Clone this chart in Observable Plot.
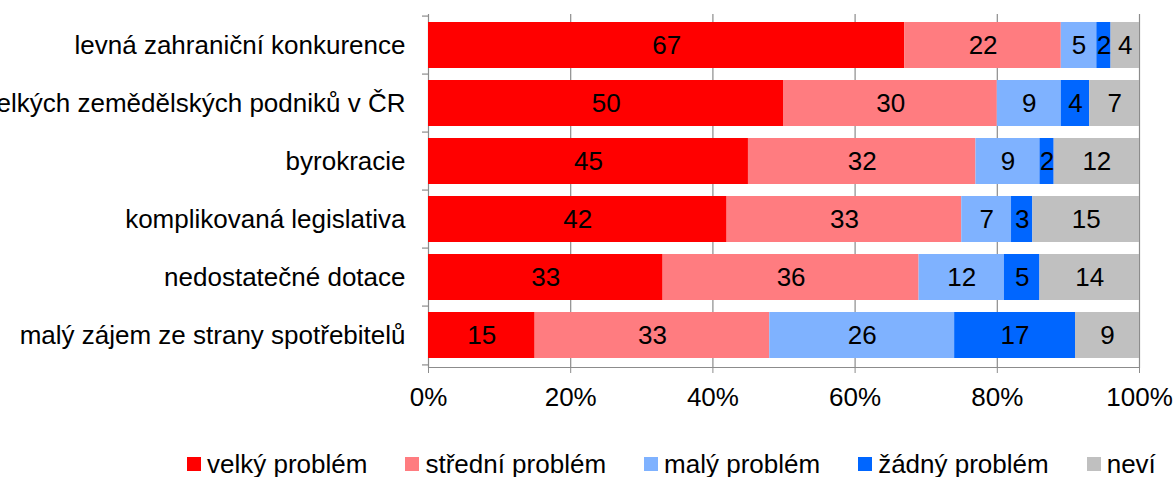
<!DOCTYPE html>
<html>
<head>
<meta charset="utf-8">
<script src="https://cdn.jsdelivr.net/npm/d3@7"></script>
<script src="https://cdn.jsdelivr.net/npm/@observablehq/plot@0.6"></script>
<style>
  body { margin: 0; background: #fff; font-family: "Liberation Sans", Arial, sans-serif; overflow: hidden; }
  #legend { display: flex; flex-wrap: nowrap; align-items: center; margin-left: 187px; padding-top: 19px; height: 30px; line-height: 30px; font-size: 26px; color: #000; white-space: nowrap; }
  #legend .item { display: flex; flex-shrink: 0; align-items: center; margin-right: 38px; white-space: nowrap; }
  #legend .sw { width: 14px; height: 14px; margin-right: 6px; flex-shrink: 0; }
</style>
</head>
<body>
<div id="chart"></div>
<div id="legend"></div>
<script>
const categories = [
  "levná zahraniční konkurence",
  "velkých zemědělských podniků v ČR",
  "byrokracie",
  "komplikovaná legislativa",
  "nedostatečné dotace",
  "malý zájem ze strany spotřebitelů"
];
const seriesNames = ["velký problém", "střední problém", "malý problém", "žádný problém", "neví"];
const seriesColors = ["#ff0000", "#ff7c80", "#7fb2ff", "#0066ff", "#c0c0c0"];
const velky   = [67, 50, 45, 42, 33, 15];
const stredni = [22, 30, 32, 33, 36, 33];
const maly    = [5, 9, 9, 7, 12, 26];
const zadny   = [2, 4, 2, 3, 5, 17];
const nevi    = [4, 7, 12, 15, 14, 9];
const xTicks = [0, 20, 40, 60, 80, 100];

const seriesValues = [velky, stredni, maly, zadny, nevi];
const data = [];
categories.forEach((c, i) => {
  seriesValues.forEach((vals, s) => {
    data.push({category: c, series: seriesNames[s], value: vals[i]});
  });
});

const step = (367 - 14) / 6;
const boundaries = categories.map(c => ({category: c, dy: -step / 2}))
  .concat([{category: categories[categories.length - 1], dy: step / 2}]);

const plot = Plot.plot({
  width: 1174,
  height: 430,
  marginLeft: 428,
  marginRight: 35,
  marginTop: 14,
  marginBottom: 63,
  style: {fontFamily: "Liberation Sans, Arial, sans-serif", fontSize: "26px", color: "#000", background: "#fff", overflow: "hidden"},
  x: {domain: [0, 100]},
  y: {domain: categories, paddingInner: 0.2, paddingOuter: 0.1},
  color: {domain: seriesNames, range: seriesColors},
  marks: [
    Plot.gridX(xTicks, {stroke: "#8c8c8c", strokeOpacity: 1, strokeWidth: 1.2}),
    Plot.barX(data, Plot.stackX({y: "category", x: "value", fill: "series", order: seriesNames})),
    Plot.text(data, Plot.stackX({y: "category", x: "value", z: "series", order: seriesNames, text: d => String(d.value), fill: "#000", fontSize: 26})),
    Plot.frame({anchor: "bottom", stroke: "#8c8c8c", strokeWidth: 1.2}),
    Plot.axisX(xTicks, {tickFormat: d => d + "%", tickSize: 6, tickPadding: 14, stroke: "#8c8c8c", fill: "#000", fontSize: 26, label: null}),
    Plot.axisY({tickSize: 0, tickPadding: 23, fontSize: 26, fill: "#000", label: null}),
    ...boundaries.map(b => Plot.ruleY([b], {y: "category", x1: -0.85, x2: 0, dy: b.dy, stroke: "#8c8c8c", strokeWidth: 1.2, clip: false}))
  ]
});
document.getElementById("chart").appendChild(plot);

const legend = document.getElementById("legend");
seriesNames.forEach((n, i) => {
  const item = document.createElement("div");
  item.className = "item";
  const sw = document.createElement("div");
  sw.className = "sw";
  sw.style.background = seriesColors[i];
  const t = document.createElement("span");
  t.textContent = n;
  item.appendChild(sw);
  item.appendChild(t);
  legend.appendChild(item);
});
</script>
</body>
</html>
